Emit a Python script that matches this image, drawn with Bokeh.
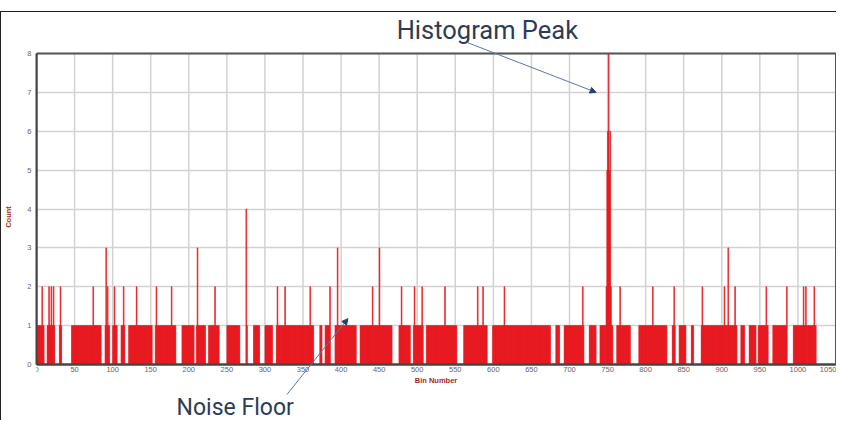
from bokeh.plotting import figure
from bokeh.models import FixedTicker, Arrow, NormalHead, Label, ColumnDataSource, Range1d
from bokeh.embed import file_html
from bokeh.resources import INLINE

# ---- data ----
n_bins = 1024
x_ticks = list(range(0, 1051, 50))
y_ticks = list(range(0, 9))

# noise floor: count 1 except these empty runs (start, end inclusive)
zero_runs = [(10, 13), (24, 29), (33, 45), (85, 89), (96, 99), (106, 110), (116, 120),
             (152, 155), (183, 190), (207, 209), (222, 225), (240, 249), (267, 274),
             (277, 284), (293, 299), (310, 314), (364, 371), (375, 378), (386, 391),
             (420, 424), (467, 475), (491, 494), (508, 511), (552, 560), (592, 598),
             (675, 681), (687, 692), (719, 725), (735, 739), (757, 761), (780, 790),
             (828, 834), (839, 843), (853, 859), (863, 872), (920, 924), (930, 935),
             (945, 947), (961, 966), (986, 993)]
count2_bins = [7, 16, 19, 22, 31, 74, 93, 102, 114, 131, 157, 177, 234, 316, 326, 359,
               385, 441, 479, 496, 506, 536, 579, 586, 614, 717, 766, 809, 837, 874,
               903, 917, 958, 985, 1007, 1010, 1021]
count3_bins = [91, 211, 395, 450, 908]
count4_bins = [275]
peak_bins = [748, 749, 750, 751, 752, 753, 754]
peak_counts = [2, 5, 6, 8, 5, 6, 2]

counts = [1] * n_bins
for a, b in zero_runs:
    for i in range(a, b + 1):
        counts[i] = 0
for i in count2_bins:
    counts[i] = 2
for i in count3_bins:
    counts[i] = 3
for i in count4_bins:
    counts[i] = 4
for i, c in zip(peak_bins, peak_counts):
    counts[i] = c

bins = list(range(n_bins))
src = ColumnDataSource(dict(left=bins, right=[b + 1 for b in bins], top=counts))

x0, x1 = x_ticks[0], x_ticks[-1]
y0, y1 = y_ticks[0], y_ticks[-1]

# frame is larger than the 0..8 box so the call-outs (which sit outside the box) are not clipped
p = figure(width=836, height=409, output_backend="svg", toolbar_location=None,
           x_range=Range1d(0, 1052), y_range=Range1d(-1.4662, 9.055),
           min_border_left=29, min_border_right=0, min_border_top=0, min_border_bottom=0)
p.styles = {"margin-top": "11px", "border-left": "1px solid #222222",
            "border-top": "1px solid #222222"}
p.outline_line_color = None

grid_col = "#d2d2d2"
# vertical grid lines limited to the 0..8 box
p.segment(x0=x_ticks, y0=[y0] * len(x_ticks), x1=x_ticks, y1=[y1] * len(x_ticks),
          line_color=grid_col, line_width=1.5)

bar_red = "#e8161c"
p.quad(left="left", right="right", bottom=0, top="top", source=src,
       fill_color=bar_red, line_color=bar_red, line_width=0.6)

# dark box around the histogram
p.quad(left=[x0], right=[x1], bottom=[y0], top=[y1], fill_color=None,
       line_color="#555555", line_width=2)

for ax in (p.xaxis[0], p.yaxis[0]):
    ax.major_tick_line_color = None
    ax.minor_tick_line_color = None
    ax.major_tick_out = 0
    ax.major_tick_in = 0
    ax.minor_tick_out = 0
    ax.axis_line_color = "#444444"
    ax.axis_line_width = 2
    ax.major_label_text_font = "Liberation Sans"
    ax.major_label_text_font_size = "7.5px"
    ax.major_label_text_color = "#666666"
    ax.axis_label_text_font = "Liberation Sans"
    ax.axis_label_text_font_size = "7.5px"
    ax.axis_label_text_font_style = "bold"
    ax.axis_label_text_color = "#9e2a22"

p.xaxis.ticker = FixedTicker(ticks=x_ticks)
p.yaxis.ticker = FixedTicker(ticks=y_ticks)
p.xaxis.bounds = (x0, x1)
p.yaxis.bounds = (y0, y1)
p.xaxis.fixed_location = 0
p.xaxis.axis_label = "Bin Number"
p.yaxis.axis_label = "Count"
p.xaxis.major_label_standoff = 2
p.xaxis.axis_label_standoff = 1
p.yaxis.major_label_standoff = 5
p.yaxis.axis_label_standoff = 11

p.xgrid.visible = False
p.ygrid.ticker = FixedTicker(ticks=y_ticks)
p.ygrid.grid_line_color = grid_col
p.ygrid.grid_line_width = 1.5

# call-outs
txt_color = "#2e3b55"
p.add_layout(Label(x=473, y=8.6, text="Histogram Peak", text_font="Roboto",
                   text_font_size="25.5px", text_color=txt_color, text_baseline="alphabetic"))
p.add_layout(Label(x=184, y=-1.106, text="Noise Floor", text_font="Roboto",
                   text_font_size="23px", text_color=txt_color, text_baseline="alphabetic"))

head_kw = dict(size=6, fill_color="#24426e", line_color="#24426e")
p.add_layout(Arrow(end=NormalHead(**head_kw), x_start=566, y_start=8.28,
                   x_end=735, y_end=7.0, line_color="#5a78a0", line_width=1))
p.add_layout(Arrow(end=NormalHead(**head_kw), x_start=329, y_start=-0.77,
                   x_end=409, y_end=1.18, line_color="#5a78a0", line_width=1))

open("out.html", "w").write(file_html(p, INLINE))
